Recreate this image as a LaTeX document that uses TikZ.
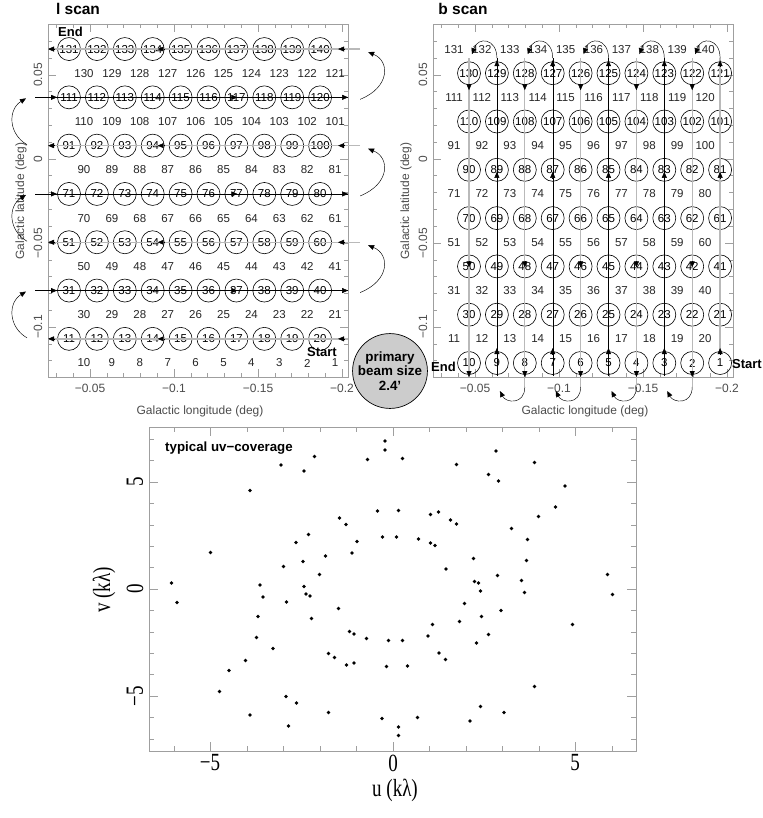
\documentclass[tikz,border=0pt]{standalone}
\usepackage{fontspec}
\usepackage{graphicx}
\setmainfont{Liberation Sans}
\newfontfamily\plotrm{Liberation Serif}
\usetikzlibrary{arrows.meta}
\tikzset{
  beamc/.style={draw,circle,line width=0.6pt,minimum size=23pt,inner sep=0pt,font=\fontsize{11.5}{12}\selectfont},
  numlab/.style={inner sep=0pt,font=\fontsize{11.5}{12}\selectfont,text=black!85},
  ticklab/.style={inner sep=0pt,font=\fontsize{12}{12}\selectfont,text=black!70},
  uvlab/.style={inner sep=0pt,font=\plotrm\fontsize{19}{19}\selectfont},
  ttl/.style={inner sep=0pt,font=\bfseries\fontsize{15.5}{16}\selectfont},
  endtag/.style={inner sep=0pt,font=\bfseries\fontsize{13}{13}\selectfont},
  frm/.style={draw=gray!75,line width=0.8pt},
  tk/.style={draw=gray!75,line width=0.6pt},
  scangray/.style={draw=gray!55,line width=1.3pt},
  scanblack/.style={draw=black,line width=0.4pt},
  hd/.style={draw=black,line width=0.45pt,-{Triangle[length=6pt,width=5pt]}},
  uvdot/.style={circle,fill=black,inner sep=0pt,minimum size=3.6pt},
}
\begin{document}
\begin{tikzpicture}[x=1pt,y=-1pt]
\useasboundingbox (0,0) rectangle (762,818);
\node[ttl] (ltitle) at (78,9) {l scan};
\node[ttl] (btitle) at (463,9) {b scan};

% frames, ticks and axis labels of the two scan panels
\foreach \pn/\X in {l/0,b/385} {
  \draw[frm] (\X+48,24) rectangle (\X+348,377);
  \foreach \tkl in {3,...,20} {
    \pgfmathsetmacro\tlen{mod(\tkl,5)==0 ? 8 : 4}
    \draw[tk] ({\X+90+(\tkl-5)*16.8},377) -- ++(0,-\tlen);
    \draw[tk] ({\X+90+(\tkl-5)*16.8},24) -- ++(0,\tlen);
  }
  \foreach \tkb in {-12,...,8} {
    \pgfmathsetmacro\tlen{mod(\tkb,5)==0 ? 8 : 4}
    \draw[tk] (\X+48,{159-(\tkb)*16.8}) -- ++(\tlen,0);
    \draw[tk] (\X+348,{159-(\tkb)*16.8}) -- ++(-\tlen,0);
  }
  \foreach \xv/\lab in {90/−0.05,174/−0.1,258/−0.15,342/−0.2}
    \node[ticklab] (\pn x\xv) at (\X+\xv,388) {\lab};
  \foreach \yv/\lab in {75/0.05,159/0,243/−0.05,327/−0.1}
    \node[ticklab,rotate=90] (\pn y\yv) at (\X+38,\yv) {\lab};
  \node[ticklab] (\pn xtitle) at (\X+200,411) {Galactic longitude (deg)};
  \node[ticklab,rotate=90] (\pn ytitle) at (\X+21,201) {Galactic latitude (deg)};
}

% pointing positions 1..140, circled where the scan passes
\foreach \pn/\X/\crow in {l/0/1,b/385/0} {
  \foreach \r in {0,...,13} {
    \pgfmathtruncatemacro\isodd{mod(\r,2)}
    \foreach \k in {0,...,9} {
      \ifnum\isodd=1
        \pgfmathtruncatemacro\n{10*\r+1+\k}\def\xo{69}
      \else
        \pgfmathtruncatemacro\n{10*\r+10-\k}\def\xo{84}
      \fi
      \ifnum\isodd=\crow
        \node[beamc] (\pn\n) at ({\X+\xo+27.9*\k},{363-24.15*\r}) {\n};
      \else
        \node[numlab] (\pn\n) at ({\X+\xo+27.9*\k},{363-24.15*\r}) {\n};
      \fi
    }
  }
}

% l scan: rows to the left
\foreach \r in {1,5,9,13} {
  \pgfmathtruncatemacro\na{10*\r+1}
  \pgfmathtruncatemacro\nz{10*\r+10}
  \pgfmathtruncatemacro\nm{10*\r+4}
  \pgfmathsetmacro\ext{\r==1 ? 28 : 40}
  \draw[scangray] ([xshift=\ext pt]l\nz.center) -- ([xshift=-21pt]l\na.center);
  \draw[hd] ([xshift=24pt]l\nz.center) -- ([xshift=18pt]l\nz.center);
  \draw[hd] ([xshift=11pt]l\nm.center) -- ([xshift=5pt]l\nm.center);
  \draw[hd] ([xshift=-15pt]l\na.center) -- ([xshift=-21pt]l\na.center);
}
% l scan: rows to the right
\foreach \r in {3,7,11} {
  \pgfmathtruncatemacro\na{10*\r+1}
  \pgfmathtruncatemacro\nz{10*\r+10}
  \pgfmathtruncatemacro\nm{10*\r+7}
  \draw[scanblack] ([xshift=-34pt]l\na.center) -- ([xshift=28pt]l\nz.center);
  \draw[hd] ([xshift=-18pt]l\na.center) -- ([xshift=-12pt]l\na.center);
  \draw[hd] ([xshift=-5pt]l\nm.center) -- ([xshift=1pt]l\nm.center);
  \draw[hd] ([xshift=22pt]l\nz.center) -- ([xshift=28pt]l\nz.center);
}
% l scan: turns
\foreach \r in {1,5,9} {
  \pgfmathtruncatemacro\na{10*\r+1}
  \pgfmathtruncatemacro\nb{10*\r+21}
  \draw[hd] ([xshift=-42pt,yshift=1pt]l\na.center) .. controls +(-19,-11) and +(-18,11) .. ([xshift=-43pt,yshift=-1pt]l\nb.center);
}
\foreach \r in {3,7,11} {
  \pgfmathtruncatemacro\nz{10*\r+10}
  \pgfmathtruncatemacro\nzz{10*\r+30}
  \draw[hd] ([xshift=40pt,yshift=-2pt]l\nz.center) .. controls +(30,-12) and +(22,9) .. ([xshift=48pt,yshift=-3pt]l\nzz.center);
}
\node[endtag] (lend) at (70.5,32) {End};
\node[endtag] (lstart) at (322,352) {Start};

% b scan: columns, up and down
\foreach \c in {1,...,10} {
  \pgfmathtruncatemacro\nt{120+\c}
  \pgfmathtruncatemacro\ntt{121+\c}
  \pgfmathtruncatemacro\cc{\c+1}
  \pgfmathtruncatemacro\nmu{80+\c}
  \pgfmathtruncatemacro\nmd{40+\c}
  \pgfmathtruncatemacro\isodd{mod(\c,2)}
  \ifnum\isodd=1
    \ifnum\c=1
      \draw[scangray] ([yshift=12pt]b1.center) -- ([yshift=15pt]b\nt.center);
    \else
      \draw[scanblack] ([yshift=-13pt]b\c.center) -- ([yshift=15pt]b\nt.center);
    \fi
    \draw[hd] ([yshift=9pt]b\c.center) -- ([yshift=15pt]b\c.center);
    \draw[hd] ([yshift=-8pt]b\nmu.center) -- ([yshift=-2pt]b\nmu.center);
    \draw[hd] ([yshift=7pt]b\nt.center) -- ([yshift=13pt]b\nt.center);
    \draw[hd] ([yshift=15pt]b\nt.center) .. controls +(0,-20) and +(6,-18) .. ([xshift=3pt,yshift=19pt]b\ntt.center);
  \else
    \ifnum\c=10
      \draw[scangray] ([yshift=15pt]b\nt.center) -- ([yshift=-14pt]b10.center);
    \else
      \draw[scangray] ([yshift=15pt]b\nt.center) -- ([yshift=-24pt]b\c.center);
      \draw[hd] ([yshift=-24pt]b\c.center) .. controls +(0,18) and +(6,12) .. ([xshift=3pt,yshift=-28pt]b\cc.center);
    \fi
    \draw[hd] ([yshift=-11pt]b\nt.center) -- ([yshift=-17pt]b\nt.center);
    \draw[hd] ([yshift=5pt]b\nmd.center) -- ([yshift=-1pt]b\nmd.center);
    \draw[hd] ([yshift=-8pt]b\c.center) -- ([yshift=-14pt]b\c.center);
  \fi
}
\node[endtag] (bend) at (443.5,367) {End};
\node[endtag] (bstart) at (747,364) {Start};

\node[draw,circle,fill=gray!40,line width=0.7pt,minimum size=67pt,inner sep=0pt,align=center,
  font=\bfseries\fontsize{13.4}{14.5}\selectfont] (pbeam) at (390,371) {primary\\beam size\\2.4'};

% uv coverage
\draw[frm] (149,427) rectangle (636,751);
\foreach \uu in {-6,...,6} {
  \pgfmathsetmacro\tlen{mod(\uu,5)==0 ? 9 : 5}
  \draw[tk] ({393+36.5*(\uu)},751) -- ++(0,-\tlen);
  \draw[tk] ({393+36.5*(\uu)},427) -- ++(0,\tlen);
}
\foreach \vv in {-7,...,7} {
  \pgfmathsetmacro\tlen{mod(\vv,5)==0 ? 9 : 5}
  \draw[tk] (149,{589-21.4*(\vv)}) -- ++(\tlen,0);
  \draw[tk] (636,{589-21.4*(\vv)}) -- ++(-\tlen,0);
}
\foreach \xv/\lab in {210/−5,393/0,575/5}
  \node[uvlab] (ux\xv) at (\xv,763) {\scalebox{1}[1.3]{\lab}};
\foreach \yv/\lab in {482/5,589/0,696/−5}
  \node[uvlab,rotate=90] (vy\yv) at (135,\yv) {\scalebox{1}[1.3]{\lab}};
\node[uvlab] (ulab) at (395,790) {\scalebox{1}[1.3]{u (kλ)}};
\node[uvlab,rotate=90] (vlab) at (104,590) {\scalebox{1}[1.3]{v (kλ)}};
\node[inner sep=0pt,font=\bfseries\fontsize{13.3}{14}\selectfont] (uvtitle) at (229,448) {typical uv−coverage};
\foreach \px/\py [count=\i] in {385/441,385/450,314.5/456.5,281/465,367.5/459.5,304/471,250/490.5,377.5/511,
  398.5/510.5,339.5/518,346/524.5,308.5/534.5,382.5/537,296/542.5,357/541.5,210.5/552.5,352/553,325.5/556,
  303/561.5,283.5/566.5,319.5/574.5,171.5/583,260/585,304/586.5,306/594,310/596,263/597,177/602.5,286.5/602,
  338.5/608.5,258/616.5,311.5/618.5,349.5/631.5,354/634,256.5/637.5,366.5/638.5,388.5/640.5,273/648.5,
  328.5/653.5,334.5/657.5,245.5/660.5,346.5/665,354/663,386.5/666.5,229/670.5,219.5/691.5,286/696.5,
  296.5/703,328.5/712.5,250/715,382/718.5,288.5/726,398.5/727,398.5/735.5,396.5/537,
  402.5/458.5,496/451,456.5/464.5,534.5/462.5,488.5/474.5,498.5/481,565/486,430.5/514.5,438.5/512,
  555.5/507,450.5/520,456.5/524,538.5/516.5,511.5/528.5,418.5/539,430.5/543,435/545.5,527.5/539.5,
  473.5/558.5,526.5/560.5,446/569,497.5/575.5,607.5/574.5,474.5/581.5,478.5/583,521.5/580.5,480.5/591,
  524.5/592.5,612.5/594.5,464.5/603.5,501/610.5,459.5/621.5,481.5/616.5,572.5/624.5,432.5/624.5,428/636,
  488.5/634.5,402.5/640.5,476.5/643,439/653,445.5/659.5,407.5/666,534.5/686.5,480.5/706.5,504/712.5,
  417.5/717.5,470/721}
  \node[uvdot] (uv\i) at (\px,\py) {};
\end{tikzpicture}
\end{document}
